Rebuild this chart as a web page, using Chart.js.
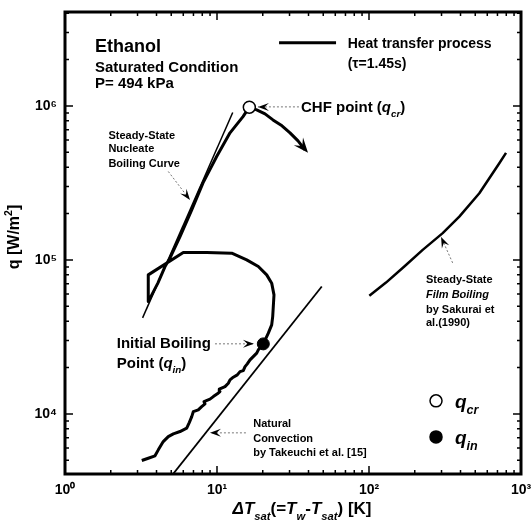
<!DOCTYPE html>
<html>
<head>
<meta charset="utf-8">
<script src="https://cdn.jsdelivr.net/npm/chart.js@4.4.1/dist/chart.umd.min.js"></script>
<style>
  html, body { margin: 0; padding: 0; background: #fff; }
  canvas { display: block; }
</style>
</head>
<body>
<canvas id="chart" width="532" height="532"></canvas>
<script>
'use strict';

// ── Axes ────────────────────────────────────────────────────────
const X_RANGE = [1, 1000];
const Y_RANGE = [4070, 4.07e6];
const X_TICKS = [1, 10, 100, 1000];
const Y_TICKS = [1e4, 1e5, 1e6];

// ── Data (ΔT_sat in K, q in W/m2) ───────────────────────────────
// transient heat transfer process, from natural convection to CHF and beyond
const processDT = [3.20, 3.53, 3.91, 4.11, 4.43, 4.78, 5.16, 5.71, 6.32, 6.57, 6.82, 6.99,
  7.53, 7.93, 8.34, 8.21, 8.99, 9.46, 10.05, 10.46, 10.35, 11.29, 11.87, 12.18, 12.80, 13.60,
  14.17, 14.89, 15.29, 15.82, 16.49, 17.51, 18.25, 18.70, 19.39, 20.17, 21.76, 22.90, 23.25,
  23.71, 22.90, 21.23, 18.70, 15.68, 12.50, 8.55, 6.00, 3.53, 3.53, 4.09, 4.55, 4.91, 5.71,
  6.82, 8.09, 9.95, 12.18, 14.83, 16.32, 18.25, 20.70, 23.35, 26.77, 30.22, 34.12, 37.93];
const processQ = [4980, 5150, 5340, 5840, 6610, 7120, 7420, 7680, 8070, 8780, 9600, 10350,
  10620, 11150, 11610, 12020, 12460, 12950, 13490, 13960, 14470, 15040, 15820, 16630, 17310, 17910,
  18820, 19110, 20280, 21120, 22420, 23800, 24790, 26040, 27110, 28480, 33420, 37850, 42830,
  59250, 70600, 79900, 90500, 100000, 110500, 111500, 111500, 79900, 53600, 70900, 90500, 103000, 141700,
  211200, 316200, 469000, 668000, 852000, 981000, 942000, 887000, 811000, 742000, 668000, 592500, 518000];

const nucleateDT = [3.24, 12.69];
const nucleateQ = [42000, 905000];

const naturalDT = [5.05, 48.9];
const naturalQ = [3980, 67100];

const filmDT = [100.5, 129.4, 170.7, 225.6, 305.4, 392.8, 532, 720, 797];
const filmQ = [58400, 71200, 90500, 116100, 149100, 191100, 271000, 424500, 495000];

const chfDT = [16.32];
const chfQ = [981000];
const qinDT = [20.17];
const qinQ = [28480];

// ── Annotations (anchored in data units: left edge, vertical centre) ──
const NOTES = [
  { x: 1.575, q: 2.45e6, size: 18, runs: 'Ethanol' },
  { x: 1.575, q: 1.79e6, size: 15, runs: 'Saturated Condition' },
  { x: 1.575, q: 1.41e6, size: 15, runs: 'P= 494 kPa' },
  { x: 72.4, q: 2.57e6, size: 14, runs: 'Heat transfer process' },
  { x: 72.4, q: 1.90e6, size: 14, runs: '(\u03c4=1.45s)' },
  { x: 35.7, q: 9.85e5, size: 15, runs: [{ t: 'CHF point (' }, { t: 'q', it: 1 }, { t: 'cr', it: 1, sub: 1 }, { t: ')' }] },
  { x: 1.93, q: 6.48e5, size: 11, runs: 'Steady-State' },
  { x: 1.93, q: 5.31e5, size: 11, runs: 'Nucleate' },
  { x: 1.93, q: 4.25e5, size: 11, runs: 'Boiling Curve' },
  { x: 2.19, q: 2.89e4, size: 15, runs: 'Initial Boiling' },
  { x: 2.19, q: 2.14e4, size: 15, runs: [{ t: 'Point (' }, { t: 'q', it: 1 }, { t: 'in', it: 1, sub: 1 }, { t: ')' }] },
  { x: 17.3, q: 8.70e3, size: 11, runs: 'Natural' },
  { x: 17.3, q: 6.95e3, size: 11, runs: 'Convection' },
  { x: 17.3, q: 5.61e3, size: 11, runs: 'by Takeuchi et al. [15]' },
  { x: 237, q: 7.49e4, size: 11, runs: 'Steady-State' },
  { x: 237, q: 6.02e4, size: 11, runs: [{ t: 'Film Boiling', it: 1 }] },
  { x: 237, q: 4.83e4, size: 11, runs: 'by Sakurai et' },
  { x: 237, q: 3.92e4, size: 11, runs: 'al.(1990)' },
  { x: 368, q: 1.215e4, size: 19, runs: [{ t: 'q', it: 1 }, { t: 'cr', it: 1, sub: 1 }] },
  { x: 368, q: 7.09e3, size: 19, runs: [{ t: 'q', it: 1 }, { t: 'in', it: 1, sub: 1 }] }
];

const LEADERS = [
  { from: [34.6, 9.85e5], to: [18.6, 9.85e5] },
  { from: [4.78, 3.75e5], to: [6.64, 2.45e5] },
  { from: [9.70, 2.85e4], to: [17.5, 2.85e4] },
  { from: [15.5, 7.53e3], to: [8.99, 7.53e3] },
  { from: [355, 9.56e4], to: [298, 1.41e5] }
];

const LEGEND_LINE = { from: [25.6, 2.57e6], to: [60.7, 2.57e6] };
const LEGEND_MARKS = [
  { x: 276, q: 1.215e4, filled: false },
  { x: 276, q: 7.09e3, filled: true }
];

// ── Helpers ─────────────────────────────────────────────────────
const FAMILY = '"Liberation Sans", Arial, Helvetica, sans-serif';
const SUP = { '0': '\u2070', '1': '\u00b9', '2': '\u00b2', '3': '\u00b3', '4': '\u2074', '5': '\u2075', '6': '\u2076' };

function fontStr(size, italic) {
  return (italic ? 'italic ' : '') + 'bold ' + size + 'px ' + FAMILY;
}

function powLabel(v) {
  const e = Math.round(Math.log10(v));
  return '10' + String(e).split('').map(c => SUP[c]).join('');
}

function pts(xs, ys) {
  return xs.map((x, i) => ({ x, y: ys[i] }));
}

function drawRich(ctx, x, cy, size, runs, align) {
  if (typeof runs === 'string') runs = [{ t: runs }];
  const parts = runs.map(r => {
    const s = (r.sub || r.sup) ? size * 0.66 : size;
    const f = fontStr(s, r.it);
    ctx.font = f;
    return Object.assign({}, r, { f, w: ctx.measureText(r.t).width });
  });
  const total = parts.reduce((a, p) => a + p.w, 0);
  let cx = align === 'center' ? x - total / 2 : x;
  const base = cy + size * 0.36;
  ctx.textAlign = 'left';
  ctx.textBaseline = 'alphabetic';
  ctx.fillStyle = '#000';
  parts.forEach(p => {
    ctx.font = p.f;
    const dy = p.sub ? size * 0.32 : p.sup ? -size * 0.42 : 0;
    ctx.fillText(p.t, cx, base + dy);
    cx += p.w;
  });
}

function arrowHead(ctx, x1, y1, x2, y2, len, wid) {
  const a = Math.atan2(y2 - y1, x2 - x1);
  ctx.save();
  ctx.translate(x2, y2);
  ctx.rotate(a);
  ctx.setLineDash([]);
  ctx.fillStyle = '#000';
  ctx.beginPath();
  ctx.moveTo(0, 0);
  ctx.lineTo(-len, -wid / 2);
  ctx.lineTo(-len * 0.6, 0);
  ctx.lineTo(-len, wid / 2);
  ctx.closePath();
  ctx.fill();
  ctx.restore();
}

// ── Decorations: frame, inward ticks, notes, legend, axis titles ──
const decor = {
  id: 'decor',
  beforeDraw(chart) {
    const ctx = chart.ctx;
    ctx.save();
    ctx.fillStyle = '#fff';
    ctx.fillRect(0, 0, chart.width, chart.height);
    ctx.restore();
  },
  afterDatasetsDraw(chart) {
    const ctx = chart.ctx;
    const { left, right, top, bottom } = chart.chartArea;
    const sx = chart.scales.x, sy = chart.scales.y;
    const X = v => sx.getPixelForValue(v);
    const Y = v => sy.getPixelForValue(v);
    ctx.save();

    // arrow on the end of the process curve
    const meta = chart.getDatasetMeta(2);
    const n = meta.data.length;
    const p1 = meta.data[n - 2], p2 = meta.data[n - 1];
    arrowHead(ctx, p1.x, p1.y, p2.x + 3, p2.y + 3, 15, 12);

    // inward ticks on all four sides
    ctx.strokeStyle = '#000';
    ctx.lineWidth = 1.5;
    ctx.beginPath();
    for (let k = 0; k < 3; k++) {
      for (let d = 1; d <= 9; d++) {
        const v = d * Math.pow(10, k);
        const px = X(v), len = d === 1 ? 8 : 4;
        ctx.moveTo(px, bottom); ctx.lineTo(px, bottom - len);
        ctx.moveTo(px, top); ctx.lineTo(px, top + len);
      }
    }
    for (let k = 3; k < 7; k++) {
      for (let d = 1; d <= 9; d++) {
        const v = d * Math.pow(10, k);
        if (v < Y_RANGE[0] || v > Y_RANGE[1]) continue;
        const py = Y(v), len = d === 1 ? 8 : 4;
        ctx.moveTo(left, py); ctx.lineTo(left + len, py);
        ctx.moveTo(right, py); ctx.lineTo(right - len, py);
      }
    }
    ctx.stroke();

    // frame
    ctx.lineWidth = 3;
    ctx.strokeRect(left, top, right - left, bottom - top);

    // dotted leaders
    LEADERS.forEach(l => {
      const x1 = X(l.from[0]), y1 = Y(l.from[1]);
      const x2 = X(l.to[0]), y2 = Y(l.to[1]);
      ctx.strokeStyle = '#777';
      ctx.lineWidth = 1;
      ctx.setLineDash([2, 2]);
      ctx.beginPath();
      ctx.moveTo(x1, y1);
      ctx.lineTo(x2, y2);
      ctx.stroke();
      arrowHead(ctx, x1, y1, x2, y2, 11, 8);
    });
    ctx.setLineDash([]);

    // legend
    ctx.strokeStyle = '#000';
    ctx.lineWidth = 3;
    ctx.beginPath();
    ctx.moveTo(X(LEGEND_LINE.from[0]), Y(LEGEND_LINE.from[1]));
    ctx.lineTo(X(LEGEND_LINE.to[0]), Y(LEGEND_LINE.to[1]));
    ctx.stroke();
    LEGEND_MARKS.forEach(m => {
      ctx.beginPath();
      ctx.arc(X(m.x), Y(m.q), 6, 0, Math.PI * 2);
      ctx.fillStyle = m.filled ? '#000' : '#fff';
      ctx.fill();
      ctx.lineWidth = 1.5;
      ctx.stroke();
    });

    // notes
    NOTES.forEach(t => drawRich(ctx, X(t.x), Y(t.q), t.size, t.runs, 'left'));

    // axis titles
    drawRich(ctx, (left + right) / 2 + 9, bottom + 34, 17, [
      { t: '\u0394T', it: 1 }, { t: 'sat', it: 1, sub: 1 }, { t: '(=' },
      { t: 'T', it: 1 }, { t: 'w', it: 1, sub: 1 }, { t: '-' },
      { t: 'T', it: 1 }, { t: 'sat', it: 1, sub: 1 }, { t: ') [K]' }
    ], 'center');
    ctx.save();
    ctx.translate(13, (top + bottom) / 2 - 6);
    ctx.rotate(-Math.PI / 2);
    drawRich(ctx, 0, 0, 16, [{ t: 'q [W/m' }, { t: '2', sup: 1 }, { t: ']' }], 'center');
    ctx.restore();

    ctx.restore();
  }
};

// ── Chart ───────────────────────────────────────────────────────
const ctx = document.getElementById('chart').getContext('2d');
const line = (data, width) => ({
  data, showLine: true, borderColor: '#000', borderWidth: width,
  pointRadius: 0, tension: 0, fill: false, borderJoinStyle: 'round'
});

new Chart(ctx, {
  type: 'scatter',
  data: {
    datasets: [
      { data: pts(chfDT, chfQ), pointRadius: 6, backgroundColor: '#fff', borderColor: '#000', borderWidth: 1.5 },
      { data: pts(qinDT, qinQ), pointRadius: 6, backgroundColor: '#000', borderColor: '#000', borderWidth: 1 },
      line(pts(processDT, processQ), 3),
      line(pts(nucleateDT, nucleateQ), 1.5),
      line(pts(naturalDT, naturalQ), 1.8),
      line(pts(filmDT, filmQ), 2.5)
    ]
  },
  options: {
    responsive: false,
    animation: false,
    layout: { padding: { top: 12, right: 11, left: 0, bottom: 0 } },
    plugins: { legend: { display: false }, tooltip: { enabled: false } },
    scales: {
      x: {
        type: 'logarithmic',
        min: X_RANGE[0], max: X_RANGE[1],
        grid: { display: false, drawTicks: false },
        border: { display: false },
        afterBuildTicks: s => { s.ticks = X_TICKS.map(v => ({ value: v })); },
        afterFit: s => { s.height = 58; s.paddingLeft = 0; s.paddingRight = 0; },
        ticks: {
          color: '#000', padding: 8, maxRotation: 0, autoSkip: false,
          font: { family: FAMILY, size: 14, weight: 'bold' },
          callback: v => powLabel(v)
        }
      },
      y: {
        type: 'logarithmic',
        min: Y_RANGE[0], max: Y_RANGE[1],
        grid: { display: false, drawTicks: false },
        border: { display: false },
        afterBuildTicks: s => { s.ticks = Y_TICKS.map(v => ({ value: v })); },
        afterFit: s => { s.width = 65; s.paddingTop = 0; s.paddingBottom = 0; },
        ticks: {
          color: '#000', padding: 8, autoSkip: false,
          font: { family: FAMILY, size: 14, weight: 'bold' },
          callback: v => powLabel(v)
        }
      }
    }
  },
  plugins: [decor]
});
</script>
</body>
</html>
